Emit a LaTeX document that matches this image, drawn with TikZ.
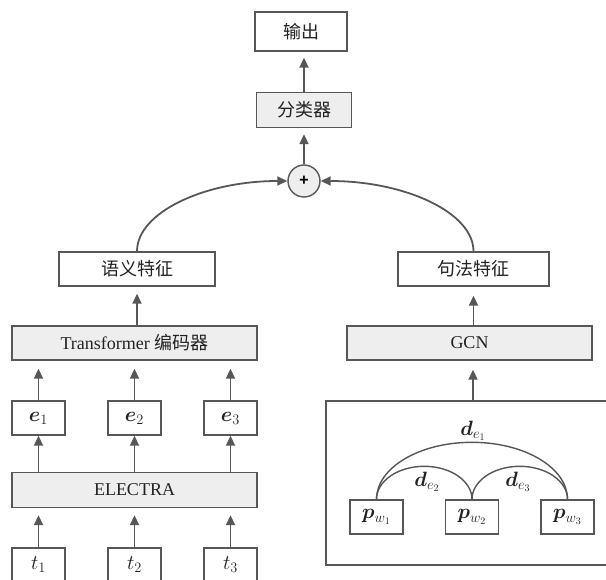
\documentclass[tikz,border=0pt]{standalone}
\usepackage{fontspec}
\usepackage{amsmath,bm}
\setmainfont{Liberation Serif}
\newfontfamily\cjk{Noto Sans CJK SC}
\newfontfamily\plusfont{Liberation Sans}
\usetikzlibrary{arrows.meta,calc}
\definecolor{ln}{HTML}{575757}
\definecolor{fl}{HTML}{EEEEEE}
\definecolor{tx}{HTML}{222222}
\begin{document}
\begin{tikzpicture}[x=1pt,y=-1pt,
  box/.style={draw=ln, line width=1.4pt, fill=white, minimum height=34pt, inner sep=0pt, text=tx, font=\fontsize{18}{21}\selectfont},
  gbox/.style={box, fill=fl},
  mbox/.style={box, font=\fontsize{20}{22}\selectfont},
  arr/.style={draw=ln, line width=1.8pt, -{Triangle[length=10pt,width=9pt]}},
  arcline/.style={draw=ln, line width=1.4pt},
  lbl/.style={text=tx, inner sep=0pt, font=\fontsize{20}{22}\selectfont}]
\useasboundingbox (0,0) rectangle (606,580);

% top
\node[box, minimum width=92pt, minimum height=39pt] (out) at (301,31.5) {\cjk 输出};
\node[gbox, minimum width=95pt, minimum height=35pt] (cls) at (304,110) {\cjk 分类器};
\node[circle, draw=ln, line width=1.4pt, fill=fl, minimum size=32pt, inner sep=0pt, text=black, font=\plusfont\bfseries\fontsize{16}{16}\selectfont] (plus) at (304,181) {+};

% features
\node[box, minimum width=156pt] (sem) at (137,269) {\cjk 语义特征};
\node[box, minimum width=151pt] (syn) at (473.5,269) {\cjk 句法特征};

\node[gbox, minimum width=245pt] (trans) at (134.5,343) {Transformer {\cjk 编码器}};
\node[gbox, minimum width=245pt] (gcn) at (469.5,343) {GCN};

\node[mbox, minimum width=53pt] (e1) at (38.5,418) {$\bm{e}_1$};
\node[mbox, minimum width=53pt] (e2) at (134.5,418) {$\bm{e}_2$};
\node[mbox, minimum width=53pt] (e3) at (230.5,418) {$\bm{e}_3$};

\node[gbox, minimum width=245pt, minimum height=35pt] (elec) at (134.5,490) {ELECTRA};

\node[mbox, minimum width=53pt] (t1) at (38.5,565) {$t_1$};
\node[mbox, minimum width=53pt] (t2) at (134.5,565) {$t_2$};
\node[mbox, minimum width=53pt] (t3) at (230.5,565) {$t_3$};

% graph container
\node[box, minimum width=294pt, minimum height=164pt] (graph) at (473,483) {};
\node[mbox, minimum width=53pt] (p1) at (376.5,517) {$\bm{p}_{w_1}$};
\node[mbox, minimum width=53pt] (p2) at (472,517) {$\bm{p}_{w_2}$};
\node[mbox, minimum width=53pt] (p3) at (567.5,517) {$\bm{p}_{w_3}$};

\draw[arcline] (p1.north) arc[start angle=180, end angle=0, x radius=95.5pt, y radius=57pt];
\draw[arcline] (p1.north) arc[start angle=180, end angle=0, x radius=47.75pt, y radius=33pt];
\draw[arcline] (p2.north) arc[start angle=180, end angle=0, x radius=47.75pt, y radius=33pt];

\node[lbl] (d1) at (473,431) {$\bm{d}_{e_1}$};
\node[lbl] (d2) at (427,482) {$\bm{d}_{e_2}$};
\node[lbl] (d3) at (518,482) {$\bm{d}_{e_3}$};

% arrows
\draw[arr, shorten >=6pt] (cls.north) -- (cls.north |- out.south);
\draw[arr, shorten >=6pt] (plus.north) -- (plus.north |- cls.south);
\draw[arr] (sem.north) .. controls ($(sem.north)!0.552!(sem.north |- plus.west)$) and ($(plus.west)!0.552!(sem.north |- plus.west)$) .. (plus.west);
\draw[arr] (syn.north) .. controls ($(syn.north)!0.552!(syn.north |- plus.east)$) and ($(plus.east)!0.552!(syn.north |- plus.east)$) .. (plus.east);

\draw[arr, shorten >=7pt] (trans.north -| sem.south) -- (sem.south);
\draw[arr, shorten >=9pt] (gcn.north -| syn.south) -- (syn.south);
\draw[arr, shorten >=9pt] (graph.north) -- (graph.north |- gcn.south);

\foreach \i in {1,2,3}{
  \draw[arr, shorten >=8pt] (e\i.north) -- (e\i.north |- trans.south);
  \draw[arr] (elec.north -| e\i.south) -- (e\i.south);
  \draw[arr, shorten >=7pt] (t\i.north) -- (t\i.north |- elec.south);
}
\end{tikzpicture}
\end{document}
